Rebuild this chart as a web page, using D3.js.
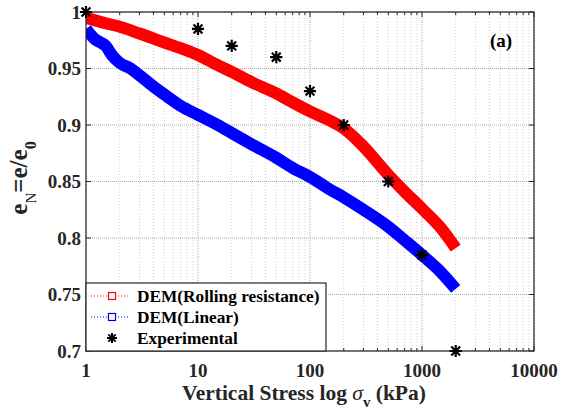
<!DOCTYPE html>
<html>
<head>
<meta charset="utf-8">
<script src="https://cdn.jsdelivr.net/npm/d3@7"></script>
<style>
  html, body { margin: 0; padding: 0; background: #fff; }
  svg { display: block; }
</style>
</head>
<body>
<svg id="chart" width="571" height="416"></svg>
<script>
// ---- data ----
const redStress = [1, 1.5, 2, 3, 5, 7, 10, 15, 20, 30, 50, 70, 100, 150, 200, 300, 500, 700, 1000, 1500, 2000];
const redEN     = [0.995, 0.990, 0.987, 0.981, 0.973, 0.968, 0.962, 0.953, 0.947, 0.938, 0.928, 0.920, 0.912, 0.904, 0.897, 0.881, 0.856, 0.841, 0.826, 0.808, 0.791];

const blueStress = [1, 1.1, 1.2, 1.35, 1.5, 1.7, 2, 2.5, 3, 4, 5, 7, 10, 15, 20, 30, 50, 70, 100, 150, 200, 300, 500, 700, 1000, 1500, 2000];
const blueEN     = [0.985, 0.980, 0.976, 0.973, 0.970, 0.962, 0.955, 0.950, 0.944, 0.934, 0.927, 0.917, 0.909, 0.900, 0.893, 0.883, 0.871, 0.862, 0.854, 0.843, 0.836, 0.825, 0.810, 0.798, 0.785, 0.769, 0.755];

const expStress = [1, 10, 20, 50, 100, 200, 500, 1000, 2000];
const expEN     = [1.0, 0.985, 0.970, 0.960, 0.930, 0.900, 0.850, 0.785, 0.700];

const xTicks = [1, 10, 100, 1000, 10000];
const xTickLabels = ["1", "10", "100", "1000", "10000"];
const yTicks = [0.7, 0.75, 0.8, 0.85, 0.9, 0.95, 1];
const yTickLabels = ["0.7", "0.75", "0.8", "0.85", "0.9", "0.95", "1"];

const seriesNames = ["DEM(Rolling resistance)", "DEM(Linear)", "Experimental"];
const seriesColors = ["#ff0000", "#0000ff", "#000000"];

// ---- layout ----
const FONT = "'Liberation Serif', 'Times New Roman', Times, serif";
const L = 86, R = 534, T = 12, B = 351;
const svg = d3.select("#chart");
const x = d3.scaleLog().domain([1, 10000]).range([L, R]);
const y = d3.scaleLinear().domain([0.7, 1]).range([B, T]);

function txt(sel) {
  return sel.style("font-family", FONT).style("font-weight", "bold");
}

// minor ticks
const minorX = [];
for (let d = 1; d < 10000; d *= 10) for (let k = 2; k <= 9; k++) minorX.push(d * k);

// grid
const grid = svg.append("g");
grid.selectAll(".gm").data(minorX).join("line")
  .attr("x1", d => x(d)).attr("x2", d => x(d)).attr("y1", T).attr("y2", B)
  .attr("stroke", "#d0d0d0").attr("stroke-width", 1).attr("stroke-dasharray", "1,2");
grid.selectAll(".gx").data(xTicks).join("line")
  .attr("x1", d => x(d)).attr("x2", d => x(d)).attr("y1", T).attr("y2", B)
  .attr("stroke", "#a8a8a8").attr("stroke-width", 1).attr("stroke-dasharray", "1,1");
grid.selectAll(".gy").data(yTicks).join("line")
  .attr("x1", L).attr("x2", R).attr("y1", d => y(d)).attr("y2", d => y(d))
  .attr("stroke", "#a8a8a8").attr("stroke-width", 1).attr("stroke-dasharray", "1,1");

// clip
svg.append("clipPath").attr("id", "clip").append("rect")
  .attr("x", L).attr("y", T).attr("width", R - L).attr("height", B - T);

const line = d3.line().x(d => x(d[0])).y(d => y(d[1])).curve(d3.curveMonotoneX);
const redData = redStress.map((s, i) => [s, redEN[i]]);
const blueData = blueStress.map((s, i) => [s, blueEN[i]]);

svg.append("path").datum(blueData).attr("d", line)
  .attr("fill", "none").attr("stroke", seriesColors[1]).attr("stroke-width", 12)
  .attr("stroke-linejoin", "round").attr("clip-path", "url(#clip)");
svg.append("path").datum(redData).attr("d", line)
  .attr("fill", "none").attr("stroke", seriesColors[0]).attr("stroke-width", 12)
  .attr("stroke-linejoin", "round").attr("clip-path", "url(#clip)");

// asterisk symbol (plus + x)
const starType = {
  draw(ctx, size) {
    const r = Math.sqrt(size) / 2;
    const q = r * 0.72;
    ctx.moveTo(-r, 0); ctx.lineTo(r, 0);
    ctx.moveTo(0, -r); ctx.lineTo(0, r);
    ctx.moveTo(-q, -q); ctx.lineTo(q, q);
    ctx.moveTo(-q, q); ctx.lineTo(q, -q);
  }
};
const star = d3.symbol().type(starType).size(150);

// axes box
svg.append("rect").attr("x", L).attr("y", T).attr("width", R - L).attr("height", B - T)
  .attr("fill", "none").attr("stroke", "#262626").attr("stroke-width", 1.2);

// ticks (inward, both sides)
const tk = svg.append("g").attr("stroke", "#262626").attr("stroke-width", 1);
tk.selectAll(".xb").data(xTicks).join("line")
  .attr("x1", d => x(d)).attr("x2", d => x(d)).attr("y1", B).attr("y2", B - 5);
tk.selectAll(".xt").data(xTicks).join("line")
  .attr("x1", d => x(d)).attr("x2", d => x(d)).attr("y1", T).attr("y2", T + 5);
tk.selectAll(".xbm").data(minorX).join("line")
  .attr("x1", d => x(d)).attr("x2", d => x(d)).attr("y1", B).attr("y2", B - 3);
tk.selectAll(".xtm").data(minorX).join("line")
  .attr("x1", d => x(d)).attr("x2", d => x(d)).attr("y1", T).attr("y2", T + 3);
tk.selectAll(".yl").data(yTicks).join("line")
  .attr("x1", L).attr("x2", L + 5).attr("y1", d => y(d)).attr("y2", d => y(d));
tk.selectAll(".yr").data(yTicks).join("line")
  .attr("x1", R).attr("x2", R - 5).attr("y1", d => y(d)).attr("y2", d => y(d));

// tick labels
txt(svg.selectAll(".xl").data(xTicks).join("text"))
  .attr("x", d => x(d)).attr("y", 377).attr("text-anchor", "middle")
  .attr("font-size", 19).attr("fill", "#262626").text((d, i) => xTickLabels[i]);
txt(svg.selectAll(".ylab").data(yTicks).join("text"))
  .attr("x", 81).attr("y", d => y(d) + 6.5).attr("text-anchor", "end")
  .attr("font-size", 19).attr("fill", "#262626").text((d, i) => yTickLabels[i]);

// legend
const lg = svg.append("g");
lg.append("rect").attr("x", L).attr("y", 283).attr("width", 240).attr("height", 68)
  .attr("fill", "#fff").attr("stroke", "#262626").attr("stroke-width", 1.2);
const rowsY = [296, 317, 338];
[0, 1].forEach(i => {
  lg.append("line").attr("x1", 91).attr("x2", 130).attr("y1", rowsY[i]).attr("y2", rowsY[i])
    .attr("stroke", seriesColors[i]).attr("stroke-width", 1).attr("stroke-dasharray", "1,2");
  lg.append("rect").attr("x", 108.5).attr("y", rowsY[i] - 3.5).attr("width", 7).attr("height", 7)
    .attr("fill", "#fff").attr("stroke", seriesColors[i]).attr("stroke-width", 1.2);
});
lg.append("path").attr("d", d3.symbol().type(starType).size(100)())
  .attr("transform", `translate(112,${rowsY[2]})`).attr("stroke", "#000").attr("stroke-width", 2).attr("fill", "none");
seriesNames.forEach((n, i) => {
  txt(lg.append("text")).attr("x", 137).attr("y", rowsY[i] + 6).attr("font-size", 17.3).attr("fill", "#000").text(n);
});

// experimental stars (drawn on top)
svg.selectAll(".star").data(expStress.map((s, i) => [s, expEN[i]])).join("path")
  .attr("d", star()).attr("transform", d => `translate(${x(d[0])},${y(d[1])})`)
  .attr("fill", "none").attr("stroke", "#000").attr("stroke-width", 2.2);

// (a)
txt(svg.append("text")).attr("x", 490).attr("y", 47).attr("font-size", 19).attr("fill", "#000").text("(a)");

// x axis title
const xt = txt(svg.append("text")).attr("x", 304).attr("y", 400).attr("text-anchor", "middle")
  .attr("font-size", 21.5).attr("fill", "#262626");
xt.append("tspan").text("Vertical Stress log ");
xt.append("tspan").style("font-style", "italic").style("font-weight", "normal").text("σ");
xt.append("tspan").attr("dy", 7).attr("font-size", 15).text("v");
xt.append("tspan").attr("dy", -7).text(" (kPa)");

// y axis title
const yt = txt(svg.append("text")).attr("transform", "translate(27,178) rotate(-90)")
  .attr("text-anchor", "middle").attr("font-size", 25).attr("fill", "#262626");
yt.append("tspan").text("e");
yt.append("tspan").attr("dy", 9).attr("font-size", 15).style("font-weight", "normal").text("N");
yt.append("tspan").attr("dy", -9).text("=e/e");
yt.append("tspan").attr("dy", 9).attr("font-size", 16).text("0");
</script>
</body>
</html>
